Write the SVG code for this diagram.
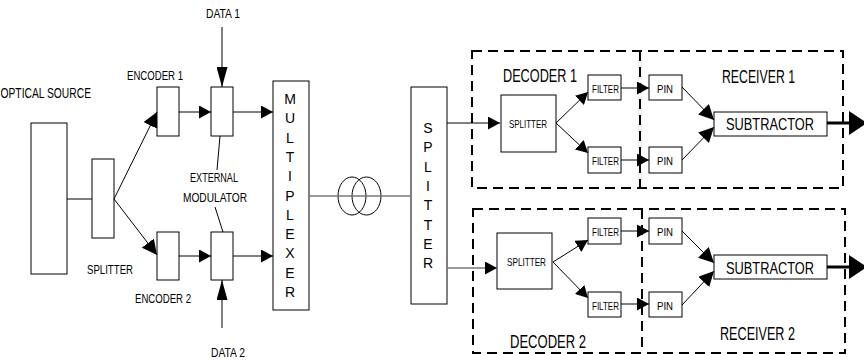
<svg xmlns="http://www.w3.org/2000/svg" width="864" height="360" viewBox="0 0 864 360">
<style>
text{font-family:"Liberation Sans",Arial,sans-serif;fill:#000}
.box{fill:#fff;stroke:#000;stroke-width:1}
.ln{fill:none;stroke:#000;stroke-width:1}
.gr{fill:none;stroke:#777;stroke-width:1.5}
.dash{fill:none;stroke:#000;stroke-width:2;stroke-dasharray:10 6}
.s11{font-size:11px}.s13{font-size:13px}.s14{font-size:14px}.s17{font-size:17px}.s18{font-size:18px}
</style>
<defs>
<marker id="ah" markerUnits="userSpaceOnUse" markerWidth="13" markerHeight="13" refX="12" refY="6.5" orient="auto"><path d="M0,0 L12,6.5 L0,13 z" fill="#000"/></marker>
<marker id="av" markerUnits="userSpaceOnUse" markerWidth="21" markerHeight="11" refX="20" refY="5.5" orient="auto"><path d="M0,0 L20,5.5 L0,11 z" fill="#000"/></marker>
<marker id="ab" markerUnits="userSpaceOnUse" markerWidth="16" markerHeight="15" refX="15" refY="7.5" orient="auto"><path d="M0,0 L15,7.5 L0,15 z" fill="#000"/></marker>
</defs>

<g id="optical-source"><rect class="box" x="31" y="123" width="36" height="151"/><text class="s14" x="0.5" y="98" textLength="90.5" lengthAdjust="spacingAndGlyphs">OPTICAL SOURCE</text></g>
<g id="splitter-tx"><rect class="box" x="92" y="159" width="22" height="79"/><text class="s13" x="87" y="274" textLength="46" lengthAdjust="spacingAndGlyphs">SPLITTER</text></g>
<g id="encoder1"><rect class="box" x="157" y="87" width="22" height="49"/><text class="s13" x="127" y="80" textLength="56" lengthAdjust="spacingAndGlyphs">ENCODER 1</text></g>
<g id="encoder2"><rect class="box" x="157" y="232" width="22" height="48"/><text class="s13" x="135" y="303" textLength="56" lengthAdjust="spacingAndGlyphs">ENCODER 2</text></g>
<g id="modulator1"><rect class="box" x="211" y="87" width="22" height="49"/></g>
<g id="modulator2"><rect class="box" x="211" y="232" width="22" height="48"/></g>
<g id="external-modulator-label"><text class="s13" x="190" y="182" textLength="48" lengthAdjust="spacingAndGlyphs">EXTERNAL</text><text class="s13" x="183" y="202" textLength="64" lengthAdjust="spacingAndGlyphs">MODULATOR</text></g>
<g id="data1"><text class="s13" x="206" y="18" textLength="34" lengthAdjust="spacingAndGlyphs">DATA 1</text></g>
<g id="data2"><text class="s13" x="211" y="357" textLength="34" lengthAdjust="spacingAndGlyphs">DATA 2</text></g>
<g id="multiplexer"><rect class="box" x="273" y="81" width="36" height="229"/>
<g class="s14" text-anchor="middle">
<text x="290" y="104">M</text><text x="290" y="123.3">U</text><text x="290" y="142.6">L</text><text x="290" y="161.9">T</text><text x="290" y="181.2">I</text><text x="290" y="200.5">P</text><text x="290" y="219.8">L</text><text x="290" y="239.1">E</text><text x="290" y="258.4">X</text><text x="290" y="277.7">E</text><text x="290" y="297">R</text>
</g></g>
<g id="fiber"><ellipse cx="352" cy="196" rx="14" ry="19" fill="none" stroke="#000" stroke-width="1"/><ellipse cx="366.5" cy="196" rx="14.5" ry="19" fill="none" stroke="#000" stroke-width="1"/></g>
<g id="splitter-rx"><rect class="box" x="411" y="87" width="36" height="217"/>
<g class="s14" text-anchor="middle">
<text x="428" y="133">S</text><text x="428" y="152.3">P</text><text x="428" y="171.6">L</text><text x="428" y="190.9">I</text><text x="428" y="210.2">T</text><text x="428" y="229.5">T</text><text x="428" y="248.8">E</text><text x="428" y="268.1">R</text>
</g></g>

<g id="decoder1-frame"><rect class="dash" x="472" y="51" width="371" height="137"/><line class="dash" x1="640" y1="51" x2="640" y2="188"/>
<text class="s18" transform="translate(503,82) scale(0.705,1)">DECODER 1</text><text class="s18" x="722" y="83" textLength="73" lengthAdjust="spacingAndGlyphs">RECEIVER 1</text></g>
<g id="decoder2-frame"><rect class="dash" x="473" y="209" width="372" height="144"/><line class="dash" x1="642" y1="209" x2="642" y2="353"/>
<text class="s18" x="510" y="348" textLength="76" lengthAdjust="spacingAndGlyphs">DECODER 2</text><text class="s18" x="720" y="340" textLength="75" lengthAdjust="spacingAndGlyphs">RECEIVER 2</text></g>

<g id="dec1-splitter"><rect class="box" x="501" y="95" width="55" height="57"/><text class="s11" x="509" y="128" textLength="38" lengthAdjust="spacingAndGlyphs">SPLITTER</text></g>
<g id="dec1-filter1"><rect class="box" x="588" y="75" width="33" height="25"/><text class="s11" x="592" y="93" textLength="27" lengthAdjust="spacingAndGlyphs">FILTER</text></g>
<g id="dec1-filter2"><rect class="box" x="588" y="147" width="33" height="26"/><text class="s11" x="592" y="165" textLength="27" lengthAdjust="spacingAndGlyphs">FILTER</text></g>
<g id="rx1-pin1"><rect class="box" x="649" y="75" width="33" height="25"/><text class="s11" x="657" y="93" textLength="16" lengthAdjust="spacingAndGlyphs">PIN</text></g>
<g id="rx1-pin2"><rect class="box" x="649" y="147" width="33" height="26"/><text class="s11" x="657" y="165" textLength="16" lengthAdjust="spacingAndGlyphs">PIN</text></g>
<g id="rx1-subtractor"><rect class="box" x="714" y="112" width="113" height="24"/><text class="s17" x="726" y="130" textLength="88" lengthAdjust="spacingAndGlyphs">SUBTRACTOR</text></g>

<g id="dec2-splitter"><rect class="box" x="497" y="233" width="55" height="56"/><text class="s11" x="507" y="266" textLength="39" lengthAdjust="spacingAndGlyphs">SPLITTER</text></g>
<g id="dec2-filter1"><rect class="box" x="588" y="218" width="33" height="26"/><text class="s11" x="592" y="236" textLength="27" lengthAdjust="spacingAndGlyphs">FILTER</text></g>
<g id="dec2-filter2"><rect class="box" x="588" y="292" width="33" height="25"/><text class="s11" x="592" y="310" textLength="27" lengthAdjust="spacingAndGlyphs">FILTER</text></g>
<g id="rx2-pin1"><rect class="box" x="649" y="218" width="33" height="26"/><text class="s11" x="657" y="236" textLength="16" lengthAdjust="spacingAndGlyphs">PIN</text></g>
<g id="rx2-pin2"><rect class="box" x="649" y="292" width="33" height="25"/><text class="s11" x="657" y="310" textLength="16" lengthAdjust="spacingAndGlyphs">PIN</text></g>
<g id="rx2-subtractor"><rect class="box" x="714" y="255" width="113" height="24"/><text class="s17" x="726" y="274" textLength="88" lengthAdjust="spacingAndGlyphs">SUBTRACTOR</text></g>

<g id="connectors">
<line class="ln" x1="67" y1="199" x2="92" y2="199"/>
<line class="ln" x1="114" y1="199" x2="157" y2="112" marker-end="url(#ab)"/>
<line class="ln" x1="114" y1="199" x2="157" y2="255" marker-end="url(#ab)"/>
<line class="ln" x1="179" y1="112" x2="211" y2="112" marker-end="url(#ah)"/>
<line class="ln" x1="179" y1="256" x2="211" y2="256" marker-end="url(#ah)"/>
<line class="ln" x1="233" y1="112" x2="273" y2="112" marker-end="url(#ah)"/>
<line class="ln" x1="233" y1="256" x2="273" y2="256" marker-end="url(#ah)"/>
<line class="ln" x1="222" y1="27" x2="222" y2="87" marker-end="url(#av)"/>
<line class="ln" x1="222" y1="328" x2="222" y2="280" marker-end="url(#av)"/>
<line class="ln" x1="220" y1="136" x2="217" y2="170"/>
<line class="ln" x1="215" y1="207" x2="223" y2="232"/>
<line class="gr" x1="309" y1="196" x2="411" y2="196"/>
<line class="ln" x1="447" y1="123" x2="500" y2="123" marker-end="url(#ah)"/>
<line class="gr" x1="447" y1="268" x2="497" y2="268" marker-end="url(#ah)"/>
<line class="ln" x1="556" y1="123" x2="588" y2="92" marker-end="url(#ah)"/>
<line class="ln" x1="556" y1="123" x2="588" y2="153" marker-end="url(#ah)"/>
<line class="ln" x1="621" y1="88" x2="649" y2="88" marker-end="url(#ah)"/>
<line class="ln" x1="621" y1="160" x2="649" y2="160" marker-end="url(#ah)"/>
<line class="ln" x1="682" y1="87" x2="714" y2="120" marker-end="url(#ab)"/>
<line class="ln" x1="682" y1="160" x2="714" y2="127" marker-end="url(#ab)"/>
<line x1="827" y1="123" x2="850" y2="123" stroke="#000" stroke-width="3"/>
<polygon points="849,111 849,135 867,123" fill="#000"/>
<line class="ln" x1="553" y1="262" x2="588" y2="240" marker-end="url(#ah)"/>
<line class="ln" x1="553" y1="262" x2="588" y2="298" marker-end="url(#ah)"/>
<line class="ln" x1="621" y1="231" x2="649" y2="231" marker-end="url(#ah)"/>
<line class="ln" x1="621" y1="304" x2="649" y2="304" marker-end="url(#ah)"/>
<line class="ln" x1="682" y1="231" x2="714" y2="263" marker-end="url(#ab)"/>
<line class="ln" x1="682" y1="305" x2="714" y2="271" marker-end="url(#ab)"/>
<line x1="827" y1="267" x2="850" y2="267" stroke="#000" stroke-width="3"/>
<polygon points="849,255 849,279 867,267" fill="#000"/>
</g>
</svg>
